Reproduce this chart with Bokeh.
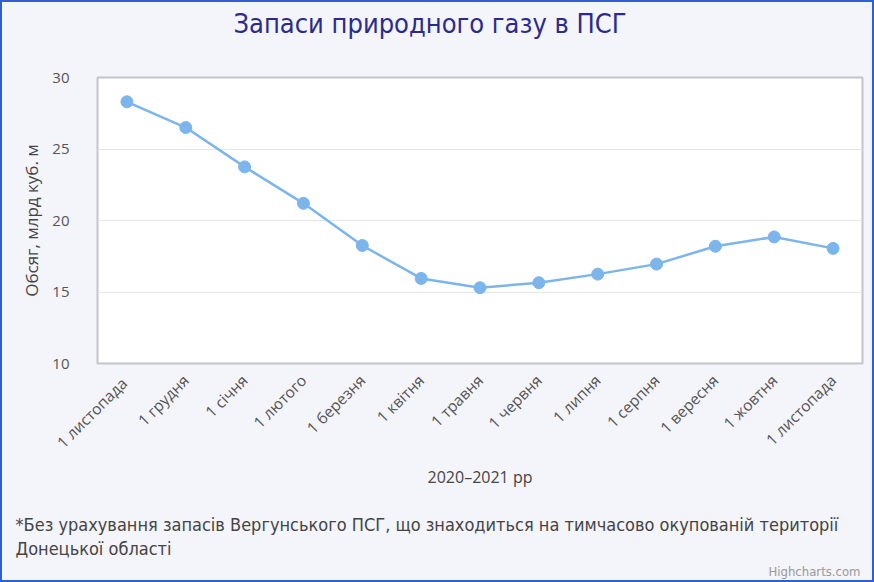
import math
from bokeh.plotting import figure
from bokeh.models import ColumnDataSource, FixedTicker, Range1d
from bokeh.layouts import column
from bokeh.core.properties import value
from bokeh.embed import file_html
from bokeh.resources import INLINE

categories = ["1 листопада ", "1 грудня", "1 січня", "1 лютого", "1 березня", "1 квітня",
              "1 травня", "1 червня", "1 липня", "1 серпня", "1 вересня", "1 жовтня", "1 листопада"]
values = [28.3, 26.5, 23.75, 21.2, 18.25, 15.95, 15.3, 15.65, 16.25, 16.95, 18.2, 18.85, 18.05]
y_ticks = [10, 15, 20, 25, 30]

title_text = "Запаси природного газу в ПСГ"
y_title = "Обсяг, млрд куб. м"
x_title = "2020–2021 рр"
note_lines = ["*Без урахування запасів Вергунського ПСГ, що знаходиться на тимчасово окупованій території",
              "Донецької області"]
credits = "Highcharts.com"

NARROW = "DejaVu Sans Condensed, Roboto"
BG = "#f4f4fb"
W = 870

src = ColumnDataSource(dict(cat=categories, val=values))

p = figure(width=W, height=490, x_range=categories, y_range=(10, 30),
           output_backend="svg", toolbar_location=None,
           min_border_left=95, min_border_right=10, min_border_top=75, min_border_bottom=129)

p.background_fill_color = "#ffffff"
p.border_fill_color = BG
p.outline_line_color = "#c4c4cc"
p.outline_line_width = 2

p.title.text = title_text
p.title.align = "left"
p.title.padding = (0, 0, 0, 39)
p.title.text_font = NARROW
p.title.text_font_size = "27px"
p.title.text_font_style = "normal"
p.title.text_color = "#2b2b8c"
p.title.offset = 136
p.title.standoff = 0

p.line("cat", "val", source=src, line_color="#7cb5ec", line_width=2.5)
p.scatter("cat", "val", source=src, size=12, fill_color="#7cb5ec", line_color="#7cb5ec")

p.xgrid.grid_line_color = None
p.ygrid.grid_line_color = "#e6e6e6"
p.ygrid.grid_line_width = 1

p.yaxis.ticker = FixedTicker(ticks=y_ticks)
p.yaxis.axis_line_color = None
p.yaxis.major_tick_line_color = None
p.yaxis.minor_tick_line_color = None
p.yaxis.major_label_text_font = "Open Sans"
p.yaxis.major_label_text_font_size = "15px"
p.yaxis.major_label_text_color = "#555555"
p.yaxis.major_label_standoff = 22
p.yaxis.axis_label = y_title
p.yaxis.axis_label_text_font = "Open Sans"
p.yaxis.axis_label_text_font_size = "17px"
p.yaxis.axis_label_text_font_style = "normal"
p.yaxis.axis_label_text_color = "#444444"
p.yaxis.axis_label_standoff = 6

p.xaxis.axis_line_color = None
p.xaxis.major_tick_line_color = None
p.xaxis.minor_tick_line_color = None
p.xaxis.major_label_orientation = math.pi / 4
p.xaxis.major_label_text_font = "Open Sans"
p.xaxis.major_label_text_font_size = "15.5px"
p.xaxis.major_label_text_color = "#555555"
p.xaxis.major_label_standoff = 8
p.xaxis.axis_label = x_title
p.xaxis.axis_label_text_font = "Open Sans"
p.xaxis.axis_label_text_font_size = "16px"
p.xaxis.axis_label_text_font_style = "normal"
p.xaxis.axis_label_text_color = "#444444"
p.xaxis.axis_label_standoff = 2

# footnote strip (pixel-like coordinates, y downward)
q = figure(width=W, height=88, x_range=Range1d(0, W), y_range=Range1d(88, 0),
           output_backend="svg", toolbar_location=None,
           x_axis_location=None, y_axis_location=None,
           min_border_left=0, min_border_right=0, min_border_top=0, min_border_bottom=0)
q.grid.visible = False
q.outline_line_color = None
q.background_fill_color = BG
q.border_fill_color = BG

for fig in (p, q):
    if "frame_align" in fig.properties():
        fig.frame_align = False

note_src = ColumnDataSource(dict(x=[13, 13], y=[32, 56], t=note_lines))
q.text("x", "y", text="t", source=note_src, text_font=value(NARROW),
       text_font_size="18px", text_color="#444444", text_baseline="middle", text_align="left")
cr_src = ColumnDataSource(dict(x=[858], y=[79], t=[credits]))
q.text("x", "y", text="t", source=cr_src, text_font=value(NARROW),
       text_font_size="13px", text_color="#999999", text_baseline="middle", text_align="right")

layout = column(p, q, spacing=0, styles={"border": "2px solid #2f5fd0", "background-color": BG})

open("out.html", "w").write(file_html(layout, INLINE))
